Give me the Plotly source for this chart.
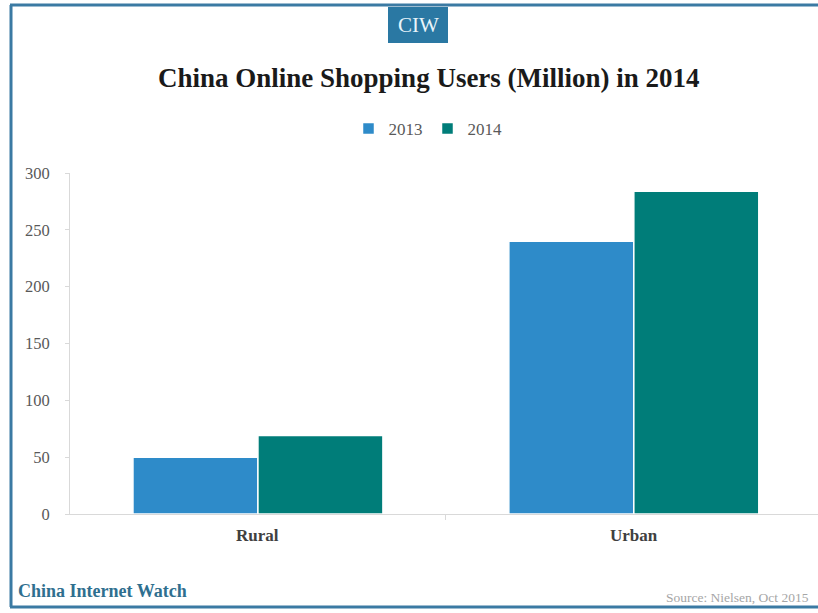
import plotly.graph_objects as go

# Online shopping users in China (millions), by area
categories = ["Rural", "Urban"]
years = ["2013", "2014"]
users_2013 = [50, 240]
users_2014 = [69, 284]
y_ticks = [0, 50, 100, 150, 200, 250, 300]

W, H = 818, 613
SERIF = "Liberation Serif, Times New Roman, serif"
colors = {"2013": "#2e8bc9", "2014": "#007d79"}

m_l, m_r, m_t, m_b = 70, 0, 173, 99
PW, PH = W - m_l - m_r, H - m_t - m_b


def px(x):
    """Page pixel x -> paper fraction."""
    return (x - m_l) / PW


def py(y):
    """Page pixel y (from top) -> paper fraction."""
    return (H - m_b - y) / PH


fig = go.Figure()
for name, vals in zip(years, [users_2013, users_2014]):
    fig.add_trace(go.Bar(
        name=name, x=categories, y=vals,
        marker=dict(color=colors[name], line=dict(color="white", width=1.5)),
    ))

fig.update_layout(
    width=W, height=H,
    margin=dict(l=m_l, r=m_r, t=m_t, b=m_b),
    paper_bgcolor="white", plot_bgcolor="white",
    barmode="group", bargap=0.335, bargroupgap=0,
    showlegend=True,
    legend=dict(orientation="h", x=px(428), xanchor="center", y=py(129),
                yanchor="middle", itemwidth=30,
                font=dict(family=SERIF, size=17, color="#595959"),
                traceorder="normal"),
    font=dict(family=SERIF),
    xaxis=dict(
        range=[-0.5, 1.49], showline=True, linecolor="#d9d9d9", linewidth=1,
        ticks="outside", tickcolor="#d9d9d9", ticklen=5,
        tickmode="array", tickvals=[0.5], ticktext=[""],
        showgrid=False, zeroline=False,
    ),
    yaxis=dict(
        range=[0, 300], tickvals=y_ticks, showgrid=False, zeroline=False,
        showline=True, linecolor="#d9d9d9", linewidth=1,
        ticks="outside", tickcolor="#d9d9d9", ticklen=4,
        ticklabelstandoff=12,
        tickfont=dict(family=SERIF, size=16.5, color="#595959"),
    ),
)

# category labels under the axis
for c in categories:
    fig.add_annotation(x=c, xref="x", y=py(535), yref="paper",
                       text=f"<b>{c}</b>", showarrow=False,
                       font=dict(family=SERIF, size=17, color="#404040"),
                       yanchor="middle")

# title
fig.add_annotation(x=px(429), xref="paper", y=py(78), yref="paper",
                   text="<b>China Online Shopping Users (Million) in 2014</b>",
                   showarrow=False, xanchor="center", yanchor="middle",
                   font=dict(family=SERIF, size=27, color="#1a1a1a"))

# frame: left, top and bottom edges of the graphic
frame = dict(color="#3b7aa3", width=3)
fig.add_shape(type="line", xref="paper", yref="paper",
              x0=px(11), x1=px(11), y0=py(607), y1=py(5), line=frame, layer="above")
fig.add_shape(type="line", xref="paper", yref="paper",
              x0=px(10), x1=px(818), y0=py(5), y1=py(5), line=frame, layer="above")
fig.add_shape(type="line", xref="paper", yref="paper",
              x0=px(10), x1=px(818), y0=py(607), y1=py(607), line=frame, layer="above")

# CIW badge
fig.add_shape(type="rect", xref="paper", yref="paper",
              x0=px(388), x1=px(448), y0=py(43), y1=py(7),
              line=dict(width=0), fillcolor="#2a78a3")
fig.add_annotation(x=px(418), xref="paper", y=py(25), yref="paper",
                   text="CIW", showarrow=False, xanchor="center", yanchor="middle",
                   font=dict(family=SERIF, size=21, color="#e8f4fa"))

# footer
fig.add_annotation(x=px(16), xref="paper", y=py(591), yref="paper",
                   text="<b>China Internet Watch</b>", showarrow=False,
                   xanchor="left", yanchor="middle",
                   font=dict(family=SERIF, size=18, color="#2f6f8f"))
fig.add_annotation(x=px(811), xref="paper", y=py(597), yref="paper",
                   text="Source: Nielsen, Oct 2015", showarrow=False,
                   xanchor="right", yanchor="middle",
                   font=dict(family=SERIF, size=13.5, color="#a6a6a6"))

fig.write_html("out.html")
